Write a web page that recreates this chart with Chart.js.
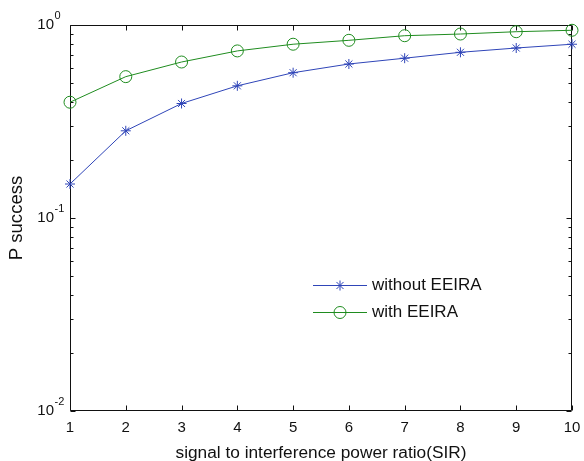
<!DOCTYPE html>
<html>
<head>
<meta charset="utf-8">
<script src="https://cdn.jsdelivr.net/npm/chart.js@4/dist/chart.umd.min.js"></script>
<style>
  html, body { margin: 0; padding: 0; background: #fff; }
  #wrap { width: 584px; height: 461px; }
</style>
</head>
<body>
<div id="wrap"><canvas id="c" width="584" height="461"></canvas></div>
<script>
// Signal-to-interference ratio on the x axis
const sir = [1, 2, 3, 4, 5, 6, 7, 8, 9, 10];
// Success probability without / with EEIRA
const pWithout = [0.150, 0.283, 0.392, 0.484, 0.566, 0.628, 0.673, 0.722, 0.760, 0.795];
const pWith    = [0.398, 0.540, 0.643, 0.734, 0.795, 0.833, 0.880, 0.898, 0.923, 0.939];
// Decade ticks of the log axis and their exponents
const yTickValues = [1, 0.1, 0.01];
const yTickExponents = ['0', '-1', '-2'];
const seriesNames = ['without EEIRA', 'with EEIRA'];

const FONT = '"Liberation Sans", Arial, Helvetica, sans-serif';
const INK = '#111';
const BLUE = '#2f45b8';
const GREEN = '#1f8c1f';

// Box, inward tick marks, superscript decade labels and the legend
const frame = {
  id: 'frame',
  beforeDatasetsDraw(chart) {
    const { ctx, chartArea: a } = chart;
    const xs = chart.scales.x, ys = chart.scales.y;
    ctx.save();
    ctx.strokeStyle = INK;
    ctx.lineWidth = 1;
    ctx.beginPath();
    const L = Math.round(a.left) + 0.5, R = Math.round(a.right) - 0.5;
    const T = Math.round(a.top) + 0.5, B = Math.round(a.bottom) - 0.5;
    ctx.rect(L, T, R - L, B - T);
    // x ticks, bottom and top
    sir.forEach(v => {
      const px = Math.round(xs.getPixelForValue(v)) + 0.5;
      ctx.moveTo(px, B); ctx.lineTo(px, B - 5);
      ctx.moveTo(px, T); ctx.lineTo(px, T + 5);
    });
    // y ticks: decades long, 2..9 short
    yTickValues.forEach(v => {
      const py = Math.round(ys.getPixelForValue(v)) + 0.5;
      ctx.moveTo(L, py); ctx.lineTo(L + 5, py);
      ctx.moveTo(R, py); ctx.lineTo(R - 5, py);
      if (v < 1) {
        for (let k = 2; k <= 9; k++) {
          const my = Math.round(ys.getPixelForValue(v * k)) + 0.5;
          ctx.moveTo(L, my); ctx.lineTo(L + 3, my);
          ctx.moveTo(R, my); ctx.lineTo(R - 3, my);
        }
      }
    });
    ctx.stroke();
    ctx.restore();
  },
  afterDraw(chart) {
    const { ctx, chartArea: a } = chart;
    const ys = chart.scales.y;
    ctx.save();
    ctx.fillStyle = INK;
    ctx.textBaseline = 'middle';
    yTickValues.forEach((v, i) => {
      const py = ys.getPixelForValue(v);
      const xr = a.left - 16;
      ctx.font = '15px ' + FONT;
      ctx.textAlign = 'right';
      ctx.fillText('10', xr, py);
      ctx.font = '11px ' + FONT;
      ctx.textAlign = 'left';
      ctx.fillText(yTickExponents[i], xr + 0.5, py - 9);
    });

    // legend
    const x0 = a.left + 243, x1 = a.left + 297, tx = a.left + 302;
    chart.data.datasets.forEach((d, i) => {
      const y = a.top + 260 + i * 27;
      ctx.strokeStyle = d.borderColor;
      ctx.lineWidth = 1;
      ctx.beginPath();
      ctx.moveTo(x0, y + 0.5); ctx.lineTo(x1, y + 0.5);
      ctx.stroke();
      ctx.fillStyle = 'rgba(0,0,0,0)';
      ctx.strokeStyle = d.pointBorderColor;
      Chart.helpers.drawPoint(ctx, {
        pointStyle: d.pointStyle,
        radius: d.pointRadius,
        borderWidth: 1,
        rotation: 0
      }, (x0 + x1) / 2, y + 0.5);
      ctx.fillStyle = INK;
      ctx.font = '17px ' + FONT;
      ctx.textAlign = 'left';
      ctx.fillText(seriesNames[i], tx, y);
    });
    ctx.restore();
  }
};

const pts = arr => sir.map((x, i) => ({ x, y: arr[i] }));

new Chart(document.getElementById('c'), {
  type: 'line',
  data: {
    datasets: [
      {
        label: seriesNames[0],
        data: pts(pWithout),
        borderColor: BLUE,
        backgroundColor: 'rgba(0,0,0,0)',
        pointBorderColor: BLUE,
        pointBackgroundColor: 'rgba(0,0,0,0)',
        borderWidth: 1,
        pointStyle: 'star',
        pointRadius: 5,
        pointBorderWidth: 1,
        tension: 0,
        clip: false
      },
      {
        label: seriesNames[1],
        data: pts(pWith),
        borderColor: GREEN,
        backgroundColor: 'rgba(0,0,0,0)',
        pointBorderColor: GREEN,
        pointBackgroundColor: 'rgba(0,0,0,0)',
        borderWidth: 1,
        pointStyle: 'circle',
        pointRadius: 6,
        pointBorderWidth: 1,
        tension: 0,
        clip: false
      }
    ]
  },
  options: {
    responsive: false,
    animation: false,
    devicePixelRatio: 1,
    layout: { padding: { left: 0, top: 25, right: 12, bottom: 0 } },
    plugins: { legend: { display: false }, tooltip: { enabled: false } },
    scales: {
      x: {
        type: 'linear',
        min: 1,
        max: 10,
        grid: { display: false, drawTicks: false },
        border: { display: false },
        ticks: {
          stepSize: 1,
          padding: 8,
          color: INK,
          font: { family: FONT, size: 15 },
          maxRotation: 0,
          autoSkip: false
        },
        title: {
          display: true,
          text: 'signal to interference power ratio(SIR)',
          color: INK,
          font: { family: FONT, size: 17.3, lineHeight: 1 },
          padding: { top: 0, bottom: -1.3 }
        },
        afterFit(s) { s.height = 50; s.paddingLeft = 0; s.paddingRight = 0; }
      },
      y: {
        type: 'logarithmic',
        min: 0.01,
        max: 1,
        grid: { display: false, drawTicks: false },
        border: { display: false },
        ticks: { display: false },
        title: {
          display: true,
          text: 'P success',
          color: INK,
          font: { family: FONT, size: 18.6, lineHeight: 1 },
          padding: { top: 7.6, bottom: 0 }
        },
        afterFit(s) { s.width = 70; s.paddingTop = 0; s.paddingBottom = 0; }
      }
    }
  },
  plugins: [frame]
});
</script>
</body>
</html>
